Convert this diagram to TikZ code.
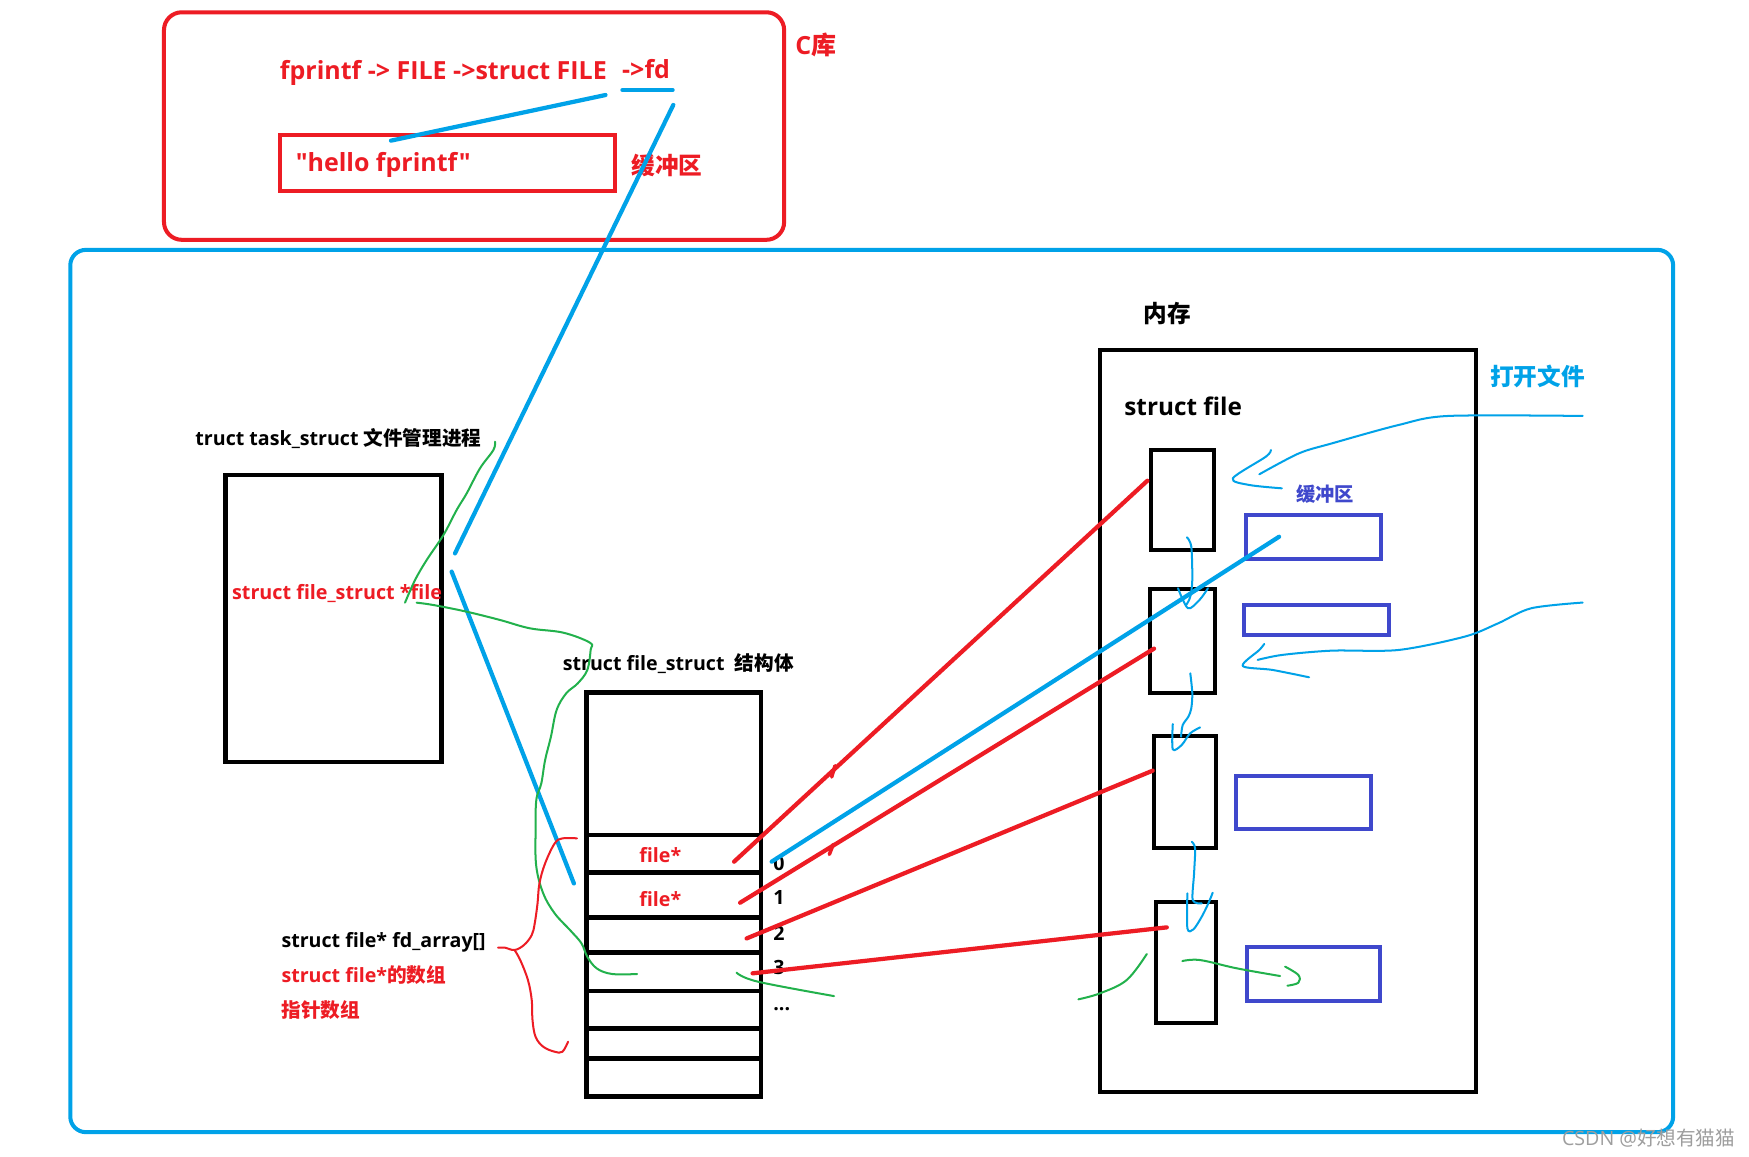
\documentclass[tikz,border=0pt]{standalone}
\usepackage{fontspec}
\setmainfont{Open Sans}[Ligatures=TeXOff]
\newfontfamily\cjk{Noto Sans CJK SC}
\usetikzlibrary{fit}
\definecolor{pred}{HTML}{ED1C24}
\definecolor{pblue}{HTML}{00A2E8}
\definecolor{pgreen}{HTML}{22B14C}
\definecolor{pindigo}{HTML}{3F48CC}
\tikzset{
  boxk/.style={draw=black, line width=2pt, inner sep=0pt},
  boxs/.style={draw=black, line width=1.8pt, inner sep=0pt},
  boxi/.style={draw=pindigo, line width=1.8pt, inner sep=0pt},
  thickb/.style={draw=pblue, line width=1.9pt, line cap=round},
  thickr/.style={draw=pred, line width=1.9pt, line cap=round},
  thing/.style={draw=pgreen, line width=0.9pt, line cap=round, line join=round},
  thinb/.style={draw=pblue, line width=0.9pt, line cap=round, line join=round},
  thinr/.style={draw=pred, line width=0.9pt, line cap=round, line join=round},
  txt/.style={anchor=base west, inner sep=0pt},
  fsmall/.style={font=\fontsize{8.8}{10}\selectfont\bfseries},
  fmid/.style={font=\fontsize{10.6}{12}\selectfont\bfseries},
  fbig/.style={font=\fontsize{11.2}{13}\selectfont\bfseries},
}
\begin{document}
\begin{tikzpicture}[x=0.5pt,y=-0.5pt]
\useasboundingbox (0,0) rectangle (1568,1037);
\fill[white] (0,0) rectangle (1568,1037);

% ---------- frames ----------
\path (147,11) coordinate (clib1) (703,215) coordinate (clib2);
\node[fit=(clib1)(clib2), inner sep=0pt, draw=pred, line width=1.8pt, rounded corners=8pt] (clib) {};
\path (251,121) coordinate (hb1) (551,171) coordinate (hb2);
\node[fit=(hb1)(hb2), inner sep=0pt, draw=pred, line width=1.8pt] (hello) {};
\path (63,224) coordinate (os1) (1500,1015) coordinate (os2);
\node[fit=(os1)(os2), inner sep=0pt, draw=pblue, line width=1.8pt, rounded corners=7pt] (os) {};

% task_struct box
\path (202,426) coordinate (tk1) (396,683) coordinate (tk2);
\node[boxk, fit=(tk1)(tk2)] (task) {};

% file_struct array box
\path (526,621) coordinate (fs1) (682,983) coordinate (fs2);
\node[boxk, fit=(fs1)(fs2)] (fstruct) {};
\foreach \yy in {748.7,782.1,822.4,853.8,888.5,921.9,948.8}
  \draw[black, line width=2pt] (fstruct.west |- 0,\yy) -- (fstruct.east |- 0,\yy);

% struct file memory box
\path (986,314) coordinate (sf1) (1323,979) coordinate (sf2);
\node[boxk, fit=(sf1)(sf2)] (sfile) {};
\path (1032,403) coordinate (a1) (1088,493) coordinate (a2);
\node[boxs, fit=(a1)(a2)] (A) {};
\path (1031,528) coordinate (b1) (1089,621) coordinate (b2);
\node[boxs, fit=(b1)(b2)] (B) {};
\path (1035,660) coordinate (c1) (1090,760) coordinate (c2);
\node[boxs, fit=(c1)(c2)] (C) {};
\path (1036,809) coordinate (d1) (1090,917) coordinate (d2);
\node[boxs, fit=(d1)(d2)] (D) {};
\path (1117,462) coordinate (u11) (1238,501) coordinate (u12);
\node[boxi, fit=(u11)(u12)] (buf1) {};
\path (1115,542) coordinate (u21) (1245,569) coordinate (u22);
\node[boxi, fit=(u21)(u22)] (buf2) {};
\path (1108,696) coordinate (u31) (1229,743) coordinate (u32);
\node[boxi, fit=(u31)(u32)] (buf3) {};
\path (1118,849) coordinate (u41) (1237,897) coordinate (u42);
\node[boxi, fit=(u41)(u42)] (buf4) {};

% ---------- texts ----------
\node[txt, fbig, text=pred] (chain) at (250.6,71.7) {fprintf -> FILE ->struct FILE};
\node[txt, fbig, text=pred] (fd) at (557.4,70.2) {->fd};
\node[txt, fbig, text=pred] (hellotxt) at (264.8,153.9) {"hello fprintf"};
\node[txt, fmid, text=pred] (buftxt) at (565.7,156) {\cjk 缓冲区};
\node[txt, fbig, text=pred] (clibtxt) at (712.6,49.3) {C{\cjk 库}};

\node[txt, fsmall] (tasktxt) at (174.8,399) {truct task\_struct {\cjk 文件管理进程}};
\node[txt, text=pred, font=\fontsize{8.85}{10}\selectfont\bfseries] (filep) at (207.7,537.3) {struct file\_struct *file};
\node[txt, fsmall] (fstxt) at (504.2,600.7) {struct file\_struct\ \ {\cjk 结构体}};
\node[anchor=base, inner sep=0pt, fsmall, text=pred] (f0) at (592,773.4) {file*};
\node[anchor=base, inner sep=0pt, fsmall, text=pred] (f1) at (592,812.9) {file*};
\node[txt, fsmall] (n0) at (692.9,780) {0};
\node[txt, fsmall] (n1) at (692.9,811) {1};
\node[txt, fsmall] (n2) at (692.9,842.8) {2};
\node[txt, fsmall] (n3) at (692.9,874) {3};
\node[txt, fsmall] (ndots) at (692.9,906) {...};
\node[txt, fsmall] (arr1) at (252,849.6) {struct file* fd\_array[]};
\node[txt, fsmall, text=pred] (arr2) at (252,881) {struct file*{\cjk 的数组}};
\node[txt, fsmall, text=pred] (arr3) at (252,912.4) {\cjk 指针数组};

\node[txt, fmid] (mem) at (1024.9,289) {\cjk 内存};
\node[txt, font=\fontsize{10.9}{12}\selectfont\bfseries] (sftxt) at (1007.6,372.9) {struct file};
\node[txt, fmid, text=pblue] (open) at (1335.6,345.5) {\cjk 打开文件};
\node[txt, font=\fontsize{8.65}{10}\selectfont\bfseries, text=pindigo] (buflbl) at (1161.7,449.2) {\cjk 缓冲区};

\node[txt, font=\fontsize{8.8}{10}\selectfont, text=black!38] (wm) at (1400,1026.5) {CSDN @{\cjk 好想有猫猫}};

% ---------- blue thick strokes ----------
\coordinate (bl1s) at (542.8,85.2);
\coordinate (bl1e) at (350.5,126.1);
\draw[thickb] (bl1s) -- (bl1e);
\coordinate (ul1) at (558,80.7);
\coordinate (ul2) at (603,80.7);
\draw[thickb] (ul1) -- (ul2);
\coordinate (bl2s) at (603.6,94.1);
\coordinate (bl2e) at (407.9,496.1);
\draw[thickb] (bl2s) -- (bl2e);
\coordinate (bl3s) at (404.9,512.5);
\coordinate (bl3e) at (514.5,792);
\draw[thickb] (bl3s) -- (bl3e);
\coordinate (bl4s) at (691.8,772.5);
\coordinate (bl4e) at (1146.7,481.2);
\draw[thickb] (bl4s) -- (bl4e);

% ---------- red thick strokes ----------
\coordinate (r0s) at (658.1,772.5);  \coordinate (r0e) at (1028.6,431);
\coordinate (r1s) at (663.5,809.3);  \coordinate (r1e) at (1034.6,581.5);
\coordinate (r2s) at (669.4,841.3);  \coordinate (r2e) at (1033.4,690.9);
\coordinate (r3s) at (674.7,872.6);  \coordinate (r3e) at (1046,831.4);
\draw[thickr] (r0s) -- (r0e);
\draw[thickr] (r1s) -- (r1e);
\draw[thickr] (r2s) -- (r2e);
\draw[thickr] (r3s) -- (r3e);
\draw[thickr, line width=1.6pt] (745.6,696.6) -- (748.6,686.5);
\draw[thickr, line width=1.6pt] (743.5,766) -- (747,757);

% ---------- green strokes ----------
\draw[thing] plot[smooth, tension=0.6] coordinates {(443.8,396) (442.3,403.5) (430.3,419.9) (418.4,442.3) (409.4,457.2) (397.5,479.7) (382.5,502.1) (372.1,520) (363.1,540.3)};
\draw[thing] plot[smooth, tension=0.6] coordinates {(373.5,540.3) (388.5,542.4) (418.4,548.4) (448.2,555.8) (475.1,563.3) (505,567.2) (528.9,576.2) (529.5,582.7) (526.5,600.7) (517.9,612.7) (507.6,621.6) (499,636.6) (493.9,660.5) (488.7,681.4) (485.3,702.3) (480.8,717.3) (480.1,747.1) (480.8,777) (487,800.9) (497.3,818.9) (511,833.8) (521.3,845.7) (526.5,857.7) (535,868.2) (548.8,873.2) (571.1,873.2)};
\draw[thing] plot[smooth, tension=0.6] coordinates {(660.3,872) (679.1,880) (747.7,893)};
\draw[thing] plot[smooth, tension=0.6] coordinates {(1028.1,855.3) (1010.1,878.6) (986.2,890.5) (966.8,895.9)};
\draw[thing] plot[smooth, tension=0.6] coordinates {(1060,861.6) (1075.9,860.7) (1108.7,868.1) (1147.6,875)};
\draw[thing] plot[smooth, tension=0.6] coordinates {(1152.1,866.6) (1164,874.1) (1164,881) (1154.2,883.7)};

% ---------- red brace ----------
\draw[thinr] plot[smooth, tension=0.6] coordinates {(517.2,751.6) (504.2,751.6) (497.3,756.1) (488.7,774) (483.6,792) (481.9,809.9) (479.4,827.8) (476.7,838.3) (469.8,847.2) (461.3,851.7) (452.7,849.6) (446.5,849.6)};
\draw[thinr] plot[smooth, tension=0.6] coordinates {(461.3,851.7) (466.4,860.7) (473.3,878.6) (476.7,896.5) (477.4,914.5) (480.1,929.4) (487,938.4) (497.3,942.9) (504.2,942.9) (509.3,933.9)};

% ---------- blue thin strokes (open file / linked list) ----------
\draw[thinb] plot[smooth, tension=0.5] coordinates {(1418.9,372.9) (1298.5,372.9) (1253.9,381) (1194.4,397.4) (1164.6,406.4) (1129,425.2)};
\draw[thinb] plot[smooth, tension=0.5] coordinates {(1139.4,403.4) (1134.9,409.4) (1105.2,428.8) (1120,434.8) (1149.2,437.8)};
\draw[thinb] plot[smooth, tension=0.5] coordinates {(1418.9,540.2) (1372.8,545.3) (1343.1,558.8) (1313.3,570.7) (1253.9,582.7) (1194.4,583.3) (1149.8,587.1) (1127.5,591.6)};
\draw[thinb] plot[smooth, tension=0.5] coordinates {(1133.4,577.3) (1129,582.7) (1114.1,597) (1140.8,600.6) (1173.6,607.2)};

\draw[thinb] plot[smooth, tension=0.5] coordinates {(1064.1,481.7) (1068,490) (1068.9,519.9) (1067.1,534.9) (1063.5,542.3)};
\draw[thinb] plot[smooth, tension=0.5] coordinates {(1056.1,527.4) (1065,545.3) (1075.4,537.8) (1082.9,527.4)};
\draw[thinb] plot[smooth, tension=0.5] coordinates {(1067.1,603.6) (1068.9,621.5) (1068,635) (1065.4,642.5) (1060.3,650) (1058.8,660.5)};
\draw[thinb] plot[smooth, tension=0.5] coordinates {(1051.4,649.1) (1051.4,671.8) (1059.4,667.9) (1066.9,657.5) (1075.9,652.1)};
\draw[thinb] plot[smooth, tension=0.5] coordinates {(1068.4,754.6) (1071.4,760.6) (1070.5,783) (1069.3,806.9) (1077.4,809.9)};
\draw[thinb] plot[smooth, tension=0.5] coordinates {(1064.5,800.9) (1064.5,832.3) (1069.9,833.2) (1077.4,821.8) (1083.3,809.9) (1087.2,800.3)};
\end{tikzpicture}
\end{document}
